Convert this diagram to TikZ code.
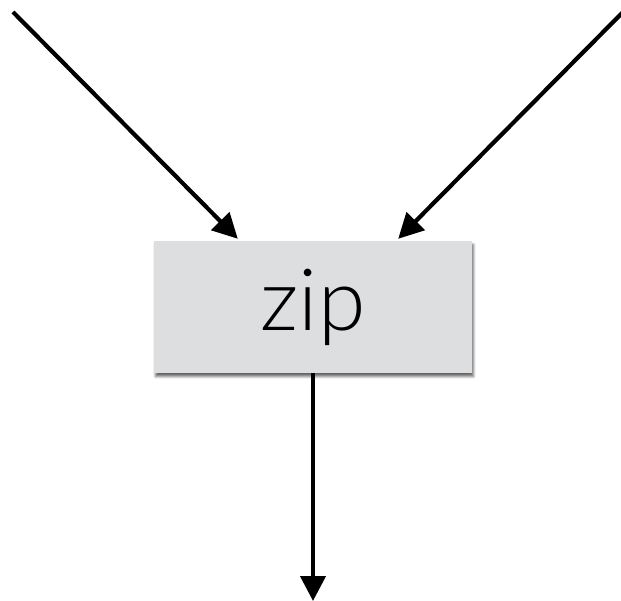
\documentclass[tikz,border=0pt]{standalone}
\usepackage{fontspec}
\setmainfont{Lato Light}
\usetikzlibrary{arrows.meta,shadows.blur}
\definecolor{boxgray}{HTML}{DDDEE0}
\begin{document}
\begin{tikzpicture}[x=1pt,y=-1pt,
  conn/.style={line width=4.2pt,-{Triangle[length=25pt,width=25pt]}},
  opbox/.style={fill=boxgray,minimum width=318pt,minimum height=132pt,inner sep=0pt,
    blur shadow={shadow xshift=1.5pt,shadow yshift=-3.5pt,shadow blur steps=5,shadow blur radius=2.5pt,shadow opacity=60},
    font=\fontsize{86}{86}\selectfont}]
\useasboundingbox (0,0) rectangle (621,601);
\node[opbox] (zip) at (313,307) {\raisebox{-1pt}{zip}};
\coordinate (inA) at (13,12);
\coordinate (inB) at (627,8);
\coordinate (out) at (313,601);
\draw[conn] (inA) -- ([xshift=84pt,yshift=2pt]zip.north west);
\draw[conn] (inB) -- ([xshift=-74pt,yshift=2pt]zip.north east);
\draw[conn] (zip.south) -- (out);
\end{tikzpicture}
\end{document}
